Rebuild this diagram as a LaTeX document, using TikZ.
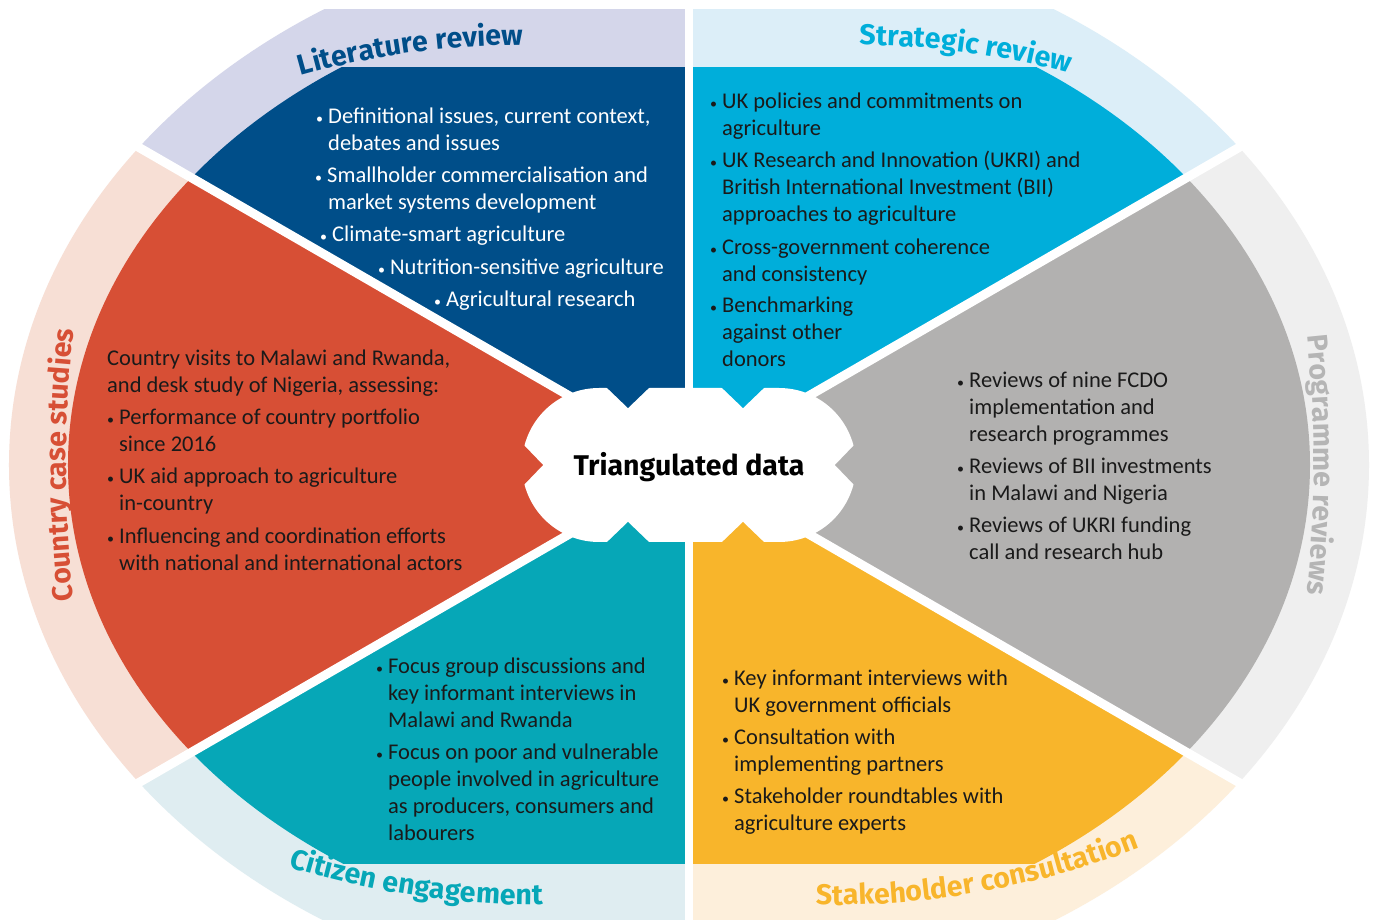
\documentclass[tikz,border=0pt]{standalone}
\usepackage{fontspec}
\setmainfont{Carlito}
\newfontfamily\titlefont{Fira Sans}
\usetikzlibrary{decorations.text}

\definecolor{litD}{HTML}{004E89}
\definecolor{litL}{HTML}{D4D6EA}
\definecolor{strD}{HTML}{00AEDA}
\definecolor{strL}{HTML}{DCEEF8}
\definecolor{proD}{HTML}{B2B1B0}
\definecolor{proL}{HTML}{EFEFEF}
\definecolor{proT}{HTML}{B5B5B5}
\definecolor{staD}{HTML}{F8B52B}
\definecolor{staL}{HTML}{FDEFDB}
\definecolor{citD}{HTML}{06A7B7}
\definecolor{citL}{HTML}{DFEDF1}
\definecolor{couD}{HTML}{D74F35}
\definecolor{couL}{HTML}{F7DFD5}
\definecolor{txt}{HTML}{1A1A1A}

\newcommand\sector[4]{%
 \begin{scope}
  \clip (0,0) -- (#1:1500) -- (#2:1500) -- cycle;
  \begin{scope}
   \clip (-700,-455) rectangle (700,455);
   \fill[#3] (0,0) ellipse [x radius=680, y radius=540];
  \end{scope}
  \begin{scope}
   \clip (-700,-398) rectangle (700,397);
   \fill[#4] (0,0) ellipse [x radius=621, y radius=480];
  \end{scope}
 \end{scope}}

\newcommand\bul{\llap{{\fontsize{14}{14}\selectfont\textbullet}\hspace{5pt}}}
\newcommand\bline[5]{\node[#1] (#2) at ({#3-689},{465-#4}) {#5};}
\newcommand\ttl{\titlefont\bfseries\fontsize{28.5}{30}\selectfont}

\tikzset{
  body/.style={inner sep=0pt, anchor=base west, font=\fontsize{22.5}{27}\selectfont, text=txt},
  bodyw/.style={body, text=white},
  sep/.style={white, line width=9pt},
}

\begin{document}
\begin{tikzpicture}[x=1pt, y=1pt]
\useasboundingbox (-689,-455) rectangle (686,465);
\clip (-689,-455) rectangle (686,465);
\fill[white] (-689,-455) rectangle (686,465);

% sectors
\sector{90}{150}{litL}{litD}
\sector{30}{90}{strL}{strD}
\sector{-30}{30}{proL}{proD}
\sector{-90}{-30}{staL}{staD}
\sector{210}{270}{citL}{citD}
\sector{150}{210}{couL}{couD}

% separators
\coordinate (c0) at (0,0);
\draw[sep] (c0) -- (30:900);
\draw[sep] (c0) -- (150:900);
\draw[sep] (c0) -- (210:900);
\draw[sep] (c0) -- (330:900);
\draw[white, line width=8pt] (0,-480) -- (0,480);

% central cloud
\fill[white, rounded corners=77pt] (-167,-77) rectangle (167,77);
\fill[litD] (-86,81) -- (-61,57) -- (-36,81) -- cycle;
\fill[strD] (29,81) -- (54,57) -- (79,81) -- cycle;
\fill[citD] (-86,-81) -- (-61,-57) -- (-36,-81) -- cycle;
\fill[staD] (29,-81) -- (54,-57) -- (79,-81) -- cycle;
\fill[couD] (-171,26) -- (-146,0) -- (-171,-26) -- cycle;
\fill[proD] (171,26) -- (146,0) -- (171,-26) -- cycle;
\node[font=\ttl, text=black, anchor=base, inner sep=0pt] (tri) at (0,-11) {Triangulated data};

% titles
\path[decorate, decoration={text along path, text align=center,
  text={|\ttl\color{litD}|Literature review}}]
  (-169,-380) ++(115:800) arc[start angle=115, end angle=80.7, radius=800];
\path[decorate, decoration={text along path, text align=center,
  text={|\ttl\color{strD}|Strategic review}}]
  (169,-380) ++(99.3:800) arc[start angle=99.3, end angle=65.3, radius=800];
\path[decorate, decoration={text along path, text align=center,
  text={|\ttl\color{citD}|Citizen engagement}}]
  (-149,410) ++(245:850) arc[start angle=245, end angle=278, radius=850];
\path[decorate, decoration={text along path, text align=center,
  text={|\ttl\color{staD}|Stakeholder consultation}}]
  (144,410) ++(262:850) arc[start angle=262, end angle=298, radius=850];
\path[decorate, decoration={text along path, text align=center,
  text={|\ttl\color{couD}|Country case studies}}]
  (577,0) ++(193:1200) arc[start angle=193, end angle=167, radius=1200];
\path[decorate, decoration={text along path, text align=center,
  text={|\ttl\color{proT}|Programme reviews}}]
  (-575,0) ++(13:1200) arc[start angle=13, end angle=-13, radius=1200];

% Literature review
\bline{bodyw}{l1}{328}{124}{\bul Definitional issues, current context,}
\bline{bodyw}{l2}{328}{151}{debates and issues}
\bline{bodyw}{l3}{327}{183}{\bul Smallholder commercialisation and}
\bline{bodyw}{l4}{328}{210}{market systems development}
\bline{bodyw}{l5}{332}{242}{\bul Climate-smart agriculture}
\bline{bodyw}{l6}{390}{274.5}{\bul Nutrition-sensitive agriculture}
\bline{bodyw}{l7}{446}{306.5}{\bul Agricultural research}

% Strategic review
\bline{body}{s1}{722}{109}{\bul UK policies and commitments on}
\bline{body}{s2}{722}{135.5}{agriculture}
\bline{body}{s3}{722}{168}{\bul UK Research and Innovation (UKRI) and}
\bline{body}{s4}{722}{195}{British International Investment (BII)}
\bline{body}{s5}{722}{222}{approaches to agriculture}
\bline{body}{s6}{722}{254.5}{\bul Cross-government coherence}
\bline{body}{s7}{722}{281.5}{and consistency}
\bline{body}{s8}{722}{313}{\bul Benchmarking}
\bline{body}{s9}{722}{340}{against other}
\bline{body}{s10}{722}{367}{donors}

% Programme reviews
\bline{body}{p1}{969}{388}{\bul Reviews of nine FCDO}
\bline{body}{p2}{969}{415}{implementation and}
\bline{body}{p3}{969}{442}{research programmes}
\bline{body}{p4}{969}{474}{\bul Reviews of BII investments}
\bline{body}{p5}{969}{501}{in Malawi and Nigeria}
\bline{body}{p6}{969}{533}{\bul Reviews of UKRI funding}
\bline{body}{p7}{969}{560}{call and research hub}

% Stakeholder consultation
\bline{body}{k1}{734}{685}{\bul Key informant interviews with}
\bline{body}{k2}{734}{712}{UK government officials}
\bline{body}{k3}{734}{744}{\bul Consultation with}
\bline{body}{k4}{734}{771}{implementing partners}
\bline{body}{k5}{734}{803}{\bul Stakeholder roundtables with}
\bline{body}{k6}{734}{830}{agriculture experts}

% Citizen engagement
\bline{body}{c1}{388}{673}{\bul Focus group discussions and}
\bline{body}{c2}{388}{700}{key informant interviews in}
\bline{body}{c3}{388}{727}{Malawi and Rwanda}
\bline{body}{c4}{388}{759}{\bul Focus on poor and vulnerable}
\bline{body}{c5}{388}{786}{people involved in agriculture}
\bline{body}{c6}{388}{813}{as producers, consumers and}
\bline{body}{c7}{388}{840}{labourers}

% Country case studies
\bline{body}{r1}{107}{366}{Country visits to Malawi and Rwanda,}
\bline{body}{r2}{107}{393}{and desk study of Nigeria, assessing:}
\bline{body}{r3}{119}{425}{\bul Performance of country portfolio}
\bline{body}{r4}{119}{452}{since 2016}
\bline{body}{r5}{119}{484}{\bul UK aid approach to agriculture}
\bline{body}{r6}{119}{511}{in-country}
\bline{body}{r7}{119}{544}{\bul Influencing and coordination efforts}
\bline{body}{r8}{119}{571}{with national and international actors}
\end{tikzpicture}
\end{document}
